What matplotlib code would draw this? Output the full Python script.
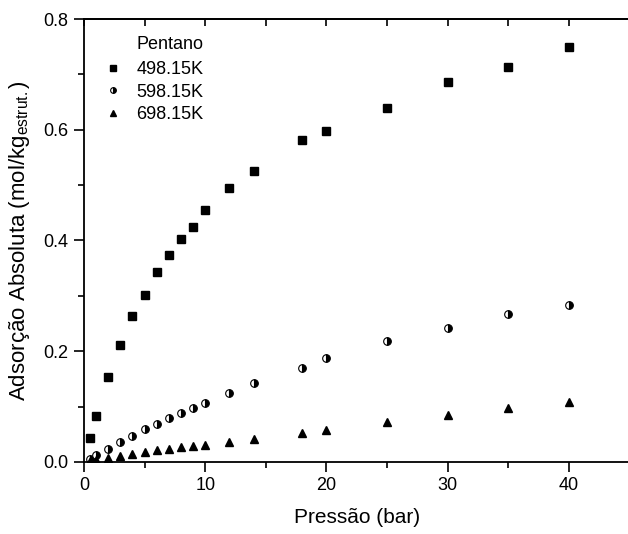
import matplotlib
matplotlib.use('Agg')
import matplotlib.pyplot as plt
from matplotlib.ticker import MultipleLocator, FormatStrFormatter

plt.rcParams['font.family'] = ['Liberation Sans', 'DejaVu Sans']
plt.rcParams['mathtext.fontset'] = 'custom'
plt.rcParams['mathtext.rm'] = 'Liberation Sans'
plt.rcParams['mathtext.it'] = 'Liberation Sans'

pressure = [0.5, 1, 2, 3, 4, 5, 6, 7, 8, 9, 10, 12, 14, 18, 20, 25, 30, 35, 40]
ads_498 = [0.043, 0.083, 0.153, 0.211, 0.264, 0.302, 0.343, 0.374, 0.403, 0.424,
           0.455, 0.495, 0.525, 0.581, 0.598, 0.639, 0.686, 0.713, 0.749]
ads_598 = [0.005, 0.013, 0.023, 0.036, 0.047, 0.059, 0.069, 0.079, 0.088, 0.098,
           0.107, 0.125, 0.142, 0.170, 0.187, 0.218, 0.242, 0.267, 0.284]
ads_698 = [0.002, 0.004, 0.008, 0.011, 0.015, 0.018, 0.021, 0.024, 0.027, 0.029,
           0.031, 0.037, 0.042, 0.053, 0.058, 0.072, 0.085, 0.097, 0.108]

fig = plt.figure(figsize=(6.28, 5.34), dpi=100)
ax = fig.add_axes([84 / 628, 72 / 534, 545.6 / 628, 443 / 534])

ax.plot(pressure, ads_498, ls='none', marker='s', ms=5.3, color='black', label='498.15K')
ax.plot(pressure, ads_598, ls='none', marker='o', ms=5.5, color='black',
        fillstyle='right', markerfacecoloralt='white', mew=0.8, label='598.15K')
ax.plot(pressure, ads_698, ls='none', marker='^', ms=6.3, color='black', label='698.15K')

ax.set_xlim(0, 45)
ax.set_ylim(0, 0.8)
ax.xaxis.set_major_locator(MultipleLocator(10))
ax.xaxis.set_minor_locator(MultipleLocator(5))
ax.yaxis.set_major_locator(MultipleLocator(0.2))
ax.yaxis.set_minor_locator(MultipleLocator(0.1))
ax.yaxis.set_major_formatter(FormatStrFormatter('%.1f'))

for s in ax.spines.values():
    s.set_linewidth(1.3)
ax.tick_params(which='both', direction='out', labelsize=13, width=1.2, pad=4)
ax.tick_params(which='major', length=7)
ax.tick_params(which='minor', length=4)

# top axis: ticks pointing inward, no labels
top = ax.secondary_xaxis('top')
top.xaxis.set_major_locator(MultipleLocator(10))
top.xaxis.set_minor_locator(MultipleLocator(5))
top.tick_params(which='both', direction='in', labeltop=False, width=1.2, length=5)
top.spines['top'].set_linewidth(1.3)

ax.set_xlabel('Pressão (bar)', fontsize=15, labelpad=10)
ax.set_ylabel(r'Adsorção Absoluta (mol/kg$_{\mathrm{estrut.}}$)', fontsize=16, labelpad=8)

ax.legend(loc='upper left', frameon=False, fontsize=13, handletextpad=0.7,
          borderaxespad=0.0, labelspacing=0.3, markerscale=0.75, handlelength=1.2,
          bbox_to_anchor=(0.02, 0.921))
ax.text(0.097, 0.942, 'Pentano', transform=ax.transAxes, fontsize=13,
        ha='left', va='center')

fig.savefig('out.png', dpi=100)
